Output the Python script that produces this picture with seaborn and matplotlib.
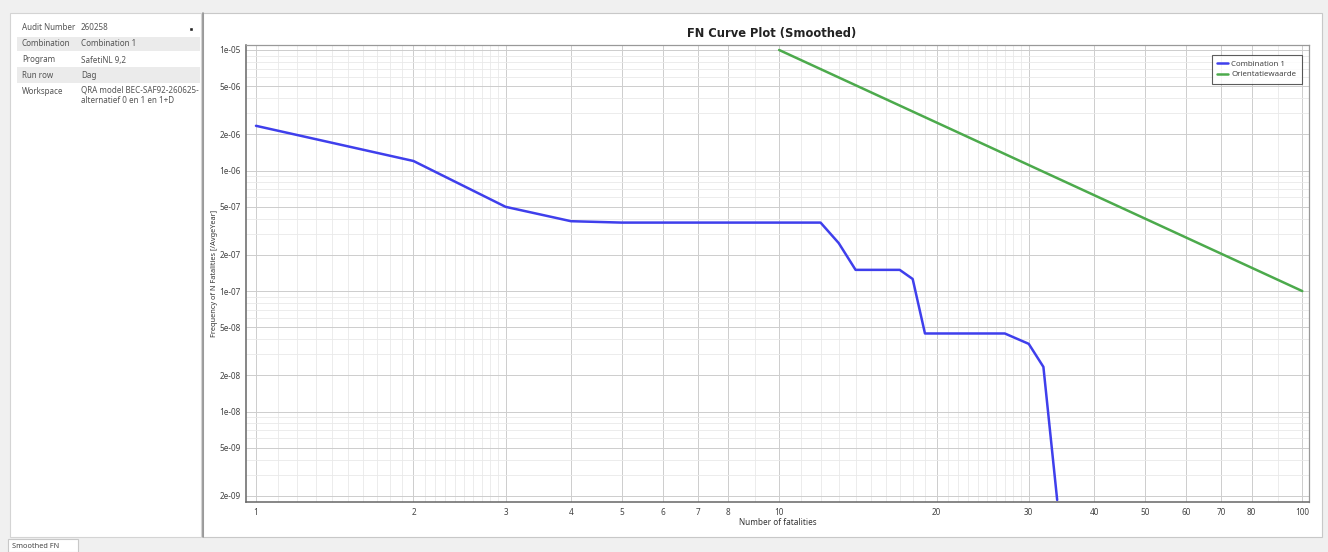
import numpy as np
import pandas as pd
import matplotlib.pyplot as plt
import seaborn as sns
from matplotlib.patches import Rectangle
from matplotlib.ticker import FixedLocator, FixedFormatter, NullFormatter

# FN curve
n_combination = [1, 2, 3, 4, 5, 12, 13, 14, 17, 18, 19, 27, 30, 32, 34]
f_combination = [2.35e-6, 1.2e-6, 5.0e-7, 3.8e-7, 3.7e-7, 3.7e-7, 2.5e-7, 1.5e-7,
                 1.5e-7, 1.26e-7, 4.45e-8, 4.45e-8, 3.65e-8, 2.35e-8, 1.85e-9]
n_orientation = [10, 100]
f_orientation = [1e-5, 1e-7]
series_names = ["Combination 1", "Orientatiewaarde"]

x_ticks = [1, 2, 3, 4, 5, 6, 7, 8, 10, 20, 30, 40, 50, 60, 70, 80, 100]
y_ticks = [1e-5, 5e-6, 2e-6, 1e-6, 5e-7, 2e-7, 1e-7, 5e-8, 2e-8, 1e-8, 5e-9, 2e-9]
y_tick_labels = ["1e-05", "5e-06", "2e-06", "1e-06", "5e-07", "2e-07", "1e-07",
                 "5e-08", "2e-08", "1e-08", "5e-09", "2e-09"]

info_keys = ["Audit Number", "Combination", "Program", "Run row", "Workspace"]
info_values = ["260258", "Combination 1", "SafetiNL 9,2", "Dag",
               "QRA model BEC-SAF92-260625-\nalternatief 0 en 1 en 1+D"]

sns.set_style("white")
plt.rcParams['font.family'] = ['Noto Sans', 'DejaVu Sans']

W, H = 1328, 552
fig = plt.figure(figsize=(W / 100, H / 100), dpi=100)
fig.patch.set_facecolor("#f0f0f0")

# window chrome drawn in pixel coords
bg = fig.add_axes([0, 0, 1, 1], zorder=0)
bg.set_xlim(0, W)
bg.set_ylim(H, 0)
bg.axis("off")
bg.add_patch(Rectangle((10, 13), 191, 524, facecolor="white", edgecolor="#d4d4d4", lw=0.8))
for y0, y1 in [(37, 51), (67, 83)]:
    bg.add_patch(Rectangle((17, y0), 183, y1 - y0, facecolor="#ebebeb", edgecolor="none"))
row_y = [28, 44, 60, 75, 91]
for key, val, y in zip(info_keys, info_values, row_y):
    bg.text(22, y, key, fontsize=5.8, color="#555555", va="center")
    if "\n" in val:
        bg.text(81, y - 5, val, fontsize=5.8, color="#555555", va="top", linespacing=1.1)
    else:
        bg.text(81, y, val, fontsize=5.8, color="#555555", va="center")
bg.add_patch(Rectangle((189, 27), 3.5, 3.5, facecolor="#222222"))
bg.add_patch(Rectangle((203, 13), 1119, 524, facecolor="white", edgecolor="#c8c8c8", lw=0.8))
bg.plot([203, 203], [13, 537], color="#909090", lw=1.2)
bg.add_patch(Rectangle((8, 539), 70, 13, facecolor="white", edgecolor="#c8c8c8", lw=0.8))
bg.text(12, 546, "Smoothed FN", fontsize=5.3, color="#444444", va="center")

# chart
ax = fig.add_axes([246 / W, 1 - 502 / H, (1309 - 246) / W, (502 - 45) / H], zorder=1)
df = pd.concat([
    pd.DataFrame({"N": n_combination, "F": f_combination, "Series": series_names[0]}),
    pd.DataFrame({"N": n_orientation, "F": f_orientation, "Series": series_names[1]}),
])
sns.lineplot(data=df, x="N", y="F", hue="Series", estimator=None, sort=False,
             palette=["#3f3fec", "#4caa4c"], lw=1.8, ax=ax)
ax.set_xscale("log")
ax.set_yscale("log")
ax.set_xlim(0.957, 103)
ax.set_ylim(1.78e-9, 1.1e-5)

x_minor = []
for d in [1, 10]:
    x_minor += [d * v for v in np.round(np.arange(1.1, 3.0, 0.1), 1) if abs(v - 2) > 1e-9]
    x_minor.append(9 * d)
y_minor = [m * d for d in [1e-9, 1e-8, 1e-7, 1e-6] for m in [3, 4, 6, 7, 8, 9]]

ax.xaxis.set_major_locator(FixedLocator(x_ticks))
ax.xaxis.set_major_formatter(FixedFormatter([str(t) for t in x_ticks]))
ax.xaxis.set_minor_locator(FixedLocator(x_minor))
ax.xaxis.set_minor_formatter(NullFormatter())
ax.yaxis.set_major_locator(FixedLocator(y_ticks))
ax.yaxis.set_major_formatter(FixedFormatter(y_tick_labels))
ax.yaxis.set_minor_locator(FixedLocator(y_minor))
ax.yaxis.set_minor_formatter(NullFormatter())
ax.grid(which="major", color="#cdcdcd", lw=0.7)
ax.grid(which="minor", color="#e9e9e9", lw=0.6)
ax.set_axisbelow(True)
ax.tick_params(which="major", labelsize=5.9, labelcolor="#444444", length=2, width=0.6,
               color="#888888", pad=2)
ax.tick_params(which="minor", length=0)

for side in ["left", "bottom"]:
    ax.spines[side].set_color("#666666")
    ax.spines[side].set_linewidth(1.1)
for side in ["top", "right"]:
    ax.spines[side].set_color("#999999")
    ax.spines[side].set_linewidth(0.9)

ax.set_xlabel("Number of fatalities", fontsize=5.9, color="#333333", labelpad=1)
ax.set_ylabel("Frequency of N Fatalities [/AvgeYear]", fontsize=5.3, color="#333333", labelpad=1)
fig.text(772 / W, 1 - 33 / H, "FN Curve Plot (Smoothed)", fontsize=8.3, fontweight="bold",
         family=["DejaVu Sans"], ha="center", va="center", color="#222222")

leg = ax.legend(loc="upper right", fontsize=5.7, frameon=True, fancybox=False,
                borderpad=0.7, handlelength=1.4, handletextpad=0.4, labelspacing=0.35,
                bbox_to_anchor=(0.997, 0.987))
leg.get_frame().set_edgecolor("#333333")
leg.get_frame().set_linewidth(0.8)
for t in leg.get_texts():
    t.set_color("#444444")

fig.savefig("out.png", dpi=100)
